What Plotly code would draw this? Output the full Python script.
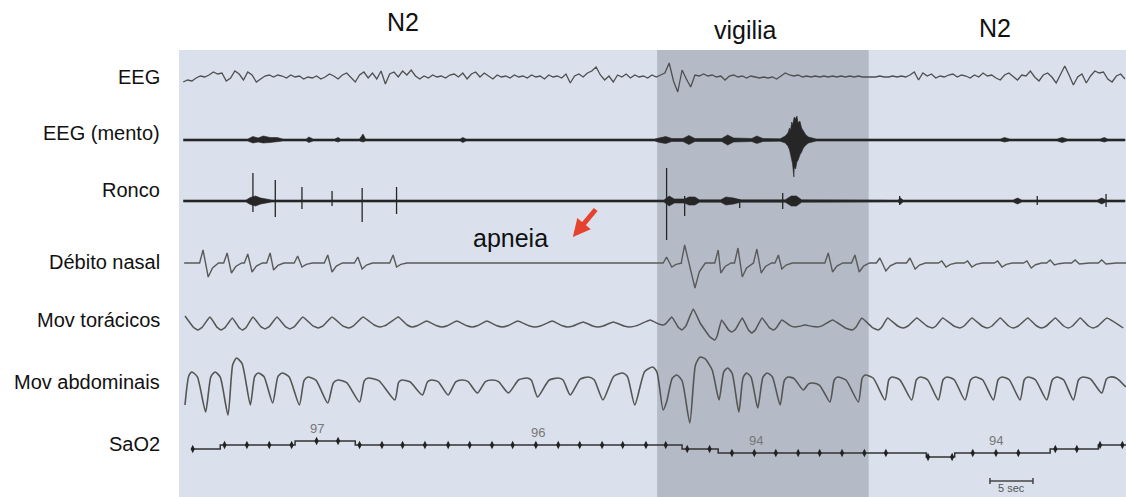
import plotly.graph_objects as go

# ---------------- DATA (times in seconds, deflections in display units) ----------------
STAGE_LABELS = ["N2", "vigilia", "N2"]
STAGE_CENTERS = [26.0, 65.9, 94.9]
WAKE_SPAN = [55.6, 80.2]

CHANNELS = ["EEG", "EEG (mento)", "Ronco", "Débito nasal", "Mov torácicos", "Mov abdominais", "SaO2"]

# EEG sampled every 0.5 s from t=0.5
EEG = [
    -5, -3, -4, -1, 1, 0, 2, 5, 3, 4, -4, -1, 6, 3, -3, 5, 2, -5, -2, 1,
    2, 0, 2, 1, -1, 2, 0, 1, -2, 0, -1, 1, -2, 0, 3, 1, -2, 2, 4, -1,
    -5, 2, 5, -1, 4, -2, 6, -7, 3, 5, 0, 6, 2, 7, 1, -2, 1, -1, 2, 0,
    1, -1, 2, 3, 0, 4, -2, 3, 5, 0, 4, 1, -2, 2, 0, 1, -1, 2, 0, 1,
    -1, 2, 0, 1, -2, 2, 0, 1, -1, 3, -6, 1, 3, 0, 4, 6, 10, 2, -3, 1,
    -5, 2, 0, 3, -1, 2, 0, 1, -1, 2, 0, 2, 4, 14, -4, -15, 7, -2, -10, 2,
    1, 3, 1, 2, 0, 1, -3, 1, 2, 0, 1, -1, 1, 0, -1, 0, -1, 0, -2, 1,
    4, 2, 1, 2, 0, 1, 0, 1, 0, 1, 0, 1, 0, 1, 0, 1, 0, 1, 0, 0,
    0, 0, 1, 0, 0, 1, 0, 1, 0, 2, 5, -3, 4, 1, 3, -1, 1, 0, 2, 3,
    0, 2, 1, -1, 2, 0, 4, 1, 2, -1, -3, 2, 4, 0, -3, 2, 1, 6, 0, -4,
    2, 4, 0, -6, 3, 11, 2, -8, 0, 3, -6, 1, 6, 4, 5, -2, -5, 1, 3, -2,
]
EEG_T0, EEG_DT = 0.5, 0.5

# chin EMG envelope: time, upper amplitude, lower amplitude
MENTO_T = [0.5, 8.0, 8.6, 9.2, 9.8, 10.6, 11.4, 12.1, 14.8, 15.1, 15.6, 18.1, 18.5, 18.8,
           21.0, 21.4, 21.7, 32.7, 33.0, 33.4, 55.3, 55.9, 56.6, 57.3, 58.6, 59.3, 60.0,
           63.1, 63.8, 64.5, 66.6, 67.2, 67.9, 69.9, 70.5, 70.8, 71.0, 71.1, 71.25, 71.35,
           71.45, 71.5, 71.55, 71.7, 71.85, 72.0, 72.2, 72.4, 72.6, 72.9, 73.2, 73.6, 74.1,
           95.5, 96.0, 96.6, 102.1, 102.7, 103.3, 107.1, 107.6, 108.0, 110.0]
MENTO_UP = [1.0, 1.0, 3.5, 2.0, 4, 2.5, 2.5, 1.0, 1.0, 3, 1.0, 1.0, 2.5, 1.0,
            1.0, 6, 1.0, 1.0, 2.5, 1.0, 1.0, 2.5, 3.5, 1.5, 1.5, 4.5, 1.5,
            1.5, 5, 2.0, 1.5, 4, 1.5, 1.2, 4, 7, 12, 9, 18, 15,
            22, 20, 23, 21, 24, 17, 19, 12, 9, 5, 3, 2, 1.0,
            1.0, 2.5, 1.0, 1.0, 2.5, 1.0, 1.0, 2.5, 1.0, 1.0]
MENTO_DN = [1.0, 1.0, 3, 2.0, 3, 2.5, 2, 1.0, 1.0, 2.5, 1.0, 1.0, 2, 1.0,
            1.0, 2, 1.0, 1.0, 2.5, 1.0, 1.0, 2.5, 3.5, 1.5, 1.5, 4.5, 1.5,
            1.5, 5, 2.0, 1.5, 3.5, 1.5, 1.2, 3, 6, 10, 14, 20, 24,
            30, 37, 27, 29, 22, 20, 15, 12, 8, 5, 3, 2, 1.0,
            1.0, 2, 1.0, 1.0, 2.5, 1.0, 1.0, 2, 1.0, 1.0]

# snoring envelope and spikes
RONCO_T = [0.5, 7.8, 8.3, 8.9, 9.5, 10.2, 10.8, 56.4, 57.0, 57.6, 58.8, 59.3, 60.0, 60.5,
           63.0, 63.6, 64.5, 65.3, 70.5, 71.2, 71.8, 72.4, 83.6, 83.9, 84.2, 97.0, 97.5,
           98.0, 106.8, 107.3, 107.8, 110.0]
RONCO_AMP = [1.0, 1.0, 3.5, 5, 3, 2, 1.0, 1.0, 5, 2, 2, 4, 4, 1.2,
             1.2, 4, 3, 1.2, 1.2, 5, 5, 1.2, 1.0, 3, 1.0, 1.0, 3,
             1.0, 1.0, 3, 1.0, 1.0]
SPIKE_T = [8.6, 11.2, 14.3, 17.8, 21.3, 25.3, 56.7, 58.8, 65.2, 70.2, 83.8, 99.8, 107.8]
SPIKE_UP = [28, 21, 14, 10, 13, 14, 33, 5, 2, 8, 5, 5, 7]
SPIKE_DN = [11, 16, 8, 5, 21, 13, 39, 15, 7, 8, 4, 4, 6]

# nasal flow breaths: peak time, peak height, trough time, trough depth
NAS_PEAK_T = [2.8, 5.6, 8.0, 10.6, 13.8, 17.3, 20.8, 24.9,
              56.7, 58.8, 62.7, 65.0, 67.2, 69.7, 75.5, 78.6,
              81.5, 85.0, 88.7, 91.7, 95.2, 98.6, 101.3, 104.2, 107.3]
NAS_PEAK_V = [13, 10, 9, 10, 7, 8, 6, 8,
              6, 18, 13, 15, 14, 8, 10, 8,
              5, 5, 2, 2, 2, 2, 3, 3, 3]
NAS_TR_T = [3.4, 6.1, 8.5, 11.0, 14.3, 17.8, 21.3, 25.3,
            57.3, 60.0, 63.0, 65.5, 67.7, 70.1, 76.0, 79.1,
            82.2, 85.6, 89.2, 92.2, 95.7, 99.1, 101.8, 104.7, 107.8]
NAS_TR_V = [14, 10, 9, 7, 4, 9, 6, 4,
            4, 25, 10, 14, 10, 6, 9, 9,
            8, 6, 4, 4, 4, 5, 2, 1, 1]

# thoracic effort keypoints
TOR_T = [0.7, 2.2, 3.6, 4.9, 6.2, 7.4, 8.6, 10.0, 11.4, 12.9, 14.4, 16.2, 17.8, 19.7,
         21.4, 23.4, 25.5, 27.1, 28.8, 30.6, 32.3, 34.1, 35.8, 37.6, 39.4, 41.4, 43.4,
         45.2, 47.0, 48.7, 50.5, 52.4, 54.8, 56.3, 57.3, 58.5, 59.8, 60.6, 62.3, 63.1,
         64.3, 65.5, 66.6, 67.8, 69.1, 70.1, 71.6, 72.8, 74.2, 76.0, 78.3, 79.4, 81.3,
         82.4, 84.2, 85.8, 87.6, 88.8, 90.8, 92.2, 94.0, 95.5, 97.0, 98.7, 100.3, 101.9,
         103.4, 104.8, 106.3, 107.9, 109.8]
TOR_V = [7, -7, 6, -7, 5, -7, 6, -6, 6, -6, 6, -5, 6, -5,
         6, -4, 6, -4, 2, -4, 2, -4, 2, -4, 2, -4, 2,
         -4, 1, -4, 1, -4, 3, -2, 6, -7, 14, 0, -17, 3,
         -9, 5, -10, 5, -7, 3, -4, -2, -4, 3, -7, 5, -7,
         5, -5, 5, -5, 5, -5, 5, -5, 5, -5, 5, -5, 5,
         -5, 5, -5, 5, -5]

# abdominal effort keypoints
ABD_T = [0.7, 1.5, 3.1, 4.2, 5.7, 6.7, 8.3, 9.2, 10.9, 12.0, 14.0, 15.0, 17.3, 18.5,
         21.0, 22.0, 25.1, 25.9, 28.3, 29.4, 31.3, 32.9, 34.7, 36.4, 38.3, 40.5, 41.7,
         44.1, 45.5, 47.6, 49.3, 51.6, 53.0, 55.1, 56.3, 56.7, 57.9, 59.4, 60.6, 62.0,
         62.8, 63.8, 65.1, 66.0, 67.3, 68.4, 69.9, 70.8, 72.6, 73.7, 75.7, 76.6, 79.0,
         79.8, 82.1, 82.9, 85.2, 86.2, 88.3, 89.3, 91.4, 92.6, 94.7, 95.7, 97.8, 98.7,
         100.9, 102.1, 104.0, 105.1, 107.3, 108.3, 110.1]
ABD_V = [-20, 13, -27, 13, -30, 27, -20, 12, -18, 12, -20, 8, -18, 5,
         -17, 7, -15, 5, -10, 5, -10, 5, -8, 5, -8, 7, -12,
         7, -10, 8, -15, 12, -20, 18, -25, -17, 10, -38, 28, 15,
         -15, 17, -27, 12, -23, 12, -20, 8, -5, 2, -17, 8, -17,
         10, -15, 8, -15, 8, -15, 8, -15, 8, -15, 8, -15, 8,
         -15, 8, -15, 8, -8, 8, -2]

# oxygen saturation (%): step changes and sample marks
SAO2_STEP_T = [1.6, 4.8, 13.5, 20.5, 58.5, 62.7, 86.9, 90.2, 101.3, 106.9]
SAO2_STEP_V = [95, 96, 97, 96, 95, 94, 93, 94, 95, 96]
SAO2_DOT_T = [1.6, 5.3, 7.9, 10.5, 13.1, 16.0, 18.5, 21.0, 23.6, 26.0, 28.6, 31.3, 33.8,
              36.4, 38.8, 41.5, 44.1, 46.6, 49.2, 51.6, 54.3, 56.6, 59.1, 61.7, 64.3,
              66.9, 69.4, 72.0, 74.5, 77.1, 79.7, 82.2, 87.1, 89.9, 92.3, 95.0, 97.6,
              101.9, 104.4, 107.1, 109.7]
SAO2_LABEL_T = [16.0, 41.7, 67.1, 95.0]
SAO2_LABEL_TXT = ["97", "96", "94", "94"]

SCALE_BAR = (94.3, 5.0)  # start, length in seconds

# ---------------- LAYOUT / STYLE ----------------
X_MIN, X_MAX, X_END = -20.81, 110.12, 110.12
BASE = {"EEG": 77, "EEG (mento)": 140, "Ronco": 201, "Débito nasal": 263,
        "Mov torácicos": 323, "Mov abdominais": 385, "SaO2": 453}
LABEL_Y = {"EEG": 77, "EEG (mento)": 133, "Ronco": 190, "Débito nasal": 262,
           "Mov torácicos": 320, "Mov abdominais": 382, "SaO2": 444}
SAO2_REF, SAO2_SCALE = 94, 4.0
LIGHT, DARK = "#dae1ec", "#b4bbc7"
FONT = "Liberation Sans, Arial, sans-serif"


def round_extrema(ts, vs, kind, frac_l, frac_r, drop):
    """Insert shoulder points beside local maxima ('max') or minima ('min')."""
    ox, oy = [ts[0]], [vs[0]]
    for i in range(1, len(ts) - 1):
        t, v = ts[i], vs[i]
        is_ext = (v > vs[i - 1] and v > vs[i + 1]) if kind == "max" else (v < vs[i - 1] and v < vs[i + 1])
        if is_ext:
            ox += [t - frac_l * (t - ts[i - 1]), t, t + frac_r * (ts[i + 1] - t)]
            oy += [v - drop * (v - vs[i - 1]), v, v - drop * (v - vs[i + 1])]
        else:
            ox.append(t)
            oy.append(v)
    ox.append(ts[-1])
    oy.append(vs[-1])
    return ox, oy


fig = go.Figure()

fig.add_shape(type="rect", x0=0, x1=X_END, y0=50, y1=497, fillcolor=LIGHT,
              line_width=0, layer="below")
fig.add_shape(type="rect", x0=WAKE_SPAN[0], x1=WAKE_SPAN[1], y0=50, y1=497,
              fillcolor=DARK, line_width=0, layer="below")

# EEG
b = BASE["EEG"]
fig.add_trace(go.Scatter(x=[EEG_T0 + EEG_DT * i for i in range(len(EEG))],
                         y=[b - v for v in EEG], mode="lines",
                         line=dict(color="#4f4f4f", width=1.3)))


def envelope(ts, up, dn, base):
    xs = list(ts) + list(reversed(ts))
    ys = [base - u for u in up] + [base + d for d in reversed(dn)]
    return xs, ys


# chin EMG
xs, ys = envelope(MENTO_T, MENTO_UP, MENTO_DN, BASE["EEG (mento)"])
fig.add_trace(go.Scatter(x=xs, y=ys, mode="lines", fill="toself", fillcolor="#262626",
                         line=dict(color="#262626", width=0.6)))

# snoring
b = BASE["Ronco"]
xs, ys = envelope(RONCO_T, RONCO_AMP, RONCO_AMP, b)
fig.add_trace(go.Scatter(x=xs, y=ys, mode="lines", fill="toself", fillcolor="#262626",
                         line=dict(color="#262626", width=0.6)))
sx, sy = [], []
for t, u, d in zip(SPIKE_T, SPIKE_UP, SPIKE_DN):
    sx += [t, t, None]
    sy += [b - u, b + d, None]
fig.add_trace(go.Scatter(x=sx, y=sy, mode="lines", line=dict(color="#262626", width=1.3)))

# nasal flow
b = BASE["Débito nasal"]
nx, ny = [0.6], [0]
for pt, pv, tt, tv in zip(NAS_PEAK_T, NAS_PEAK_V, NAS_TR_T, NAS_TR_V):
    nx += [pt - 0.4, pt, tt, tt + 0.5, tt + 1.2]
    ny += [0, pv, -tv, -0.35 * tv, 0]
nx.append(X_END)
ny.append(0)
fig.add_trace(go.Scatter(x=nx, y=[b - v for v in ny], mode="lines",
                         line=dict(color="#5a5a5a", width=1.4)))

# thoracic: sharp peaks, rounded troughs
b = BASE["Mov torácicos"]
tx, tv_ = round_extrema(TOR_T, TOR_V, "min", 0.35, 0.35, 0.2)
fig.add_trace(go.Scatter(x=tx, y=[b - v for v in tv_], mode="lines",
                         line=dict(color="#555555", width=1.5, shape="spline", smoothing=0.3)))

# abdominal: rounded tops, sharp troughs
b = BASE["Mov abdominais"]
ax_, av_ = round_extrema(ABD_T, ABD_V, "max", 0.45, 0.4, 0.12)
fig.add_trace(go.Scatter(x=ax_, y=[b - v for v in av_], mode="lines",
                         line=dict(color="#555555", width=1.6, shape="spline", smoothing=0.6)))

# SaO2
b = BASE["SaO2"]


def sao2_y(v):
    return b - (v - SAO2_REF) * SAO2_SCALE


def sao2_at(t):
    val = SAO2_STEP_V[0]
    for st, sv in zip(SAO2_STEP_T, SAO2_STEP_V):
        if t >= st:
            val = sv
    return val


fig.add_trace(go.Scatter(x=SAO2_STEP_T + [X_END], y=[sao2_y(v) for v in SAO2_STEP_V + [SAO2_STEP_V[-1]]],
                         mode="lines", line=dict(color="#333333", width=1.5, shape="hv")))
fig.add_trace(go.Scatter(x=SAO2_DOT_T, y=[sao2_y(sao2_at(t)) for t in SAO2_DOT_T], mode="markers",
                         marker=dict(symbol="diamond-tall", size=6, color="#222222")))
for t, txt in zip(SAO2_LABEL_T, SAO2_LABEL_TXT):
    fig.add_annotation(x=t, y=sao2_y(sao2_at(t)) - 13, text=txt, showarrow=False,
                       font=dict(family=FONT, size=13, color="#777777"))

# scale bar
s0, sl = SCALE_BAR
fig.add_trace(go.Scatter(x=[s0, s0, None, s0, s0 + sl, None, s0 + sl, s0 + sl],
                         y=[478, 484, None, 481, 481, None, 478, 484], mode="lines",
                         line=dict(color="#444444", width=1.5)))
fig.add_annotation(x=s0 + sl / 2, y=495, yanchor="bottom", text="5 sec", showarrow=False,
                   borderpad=0, font=dict(family=FONT, size=11, color="#555555"))

# stage titles
for lab, cx, yy in zip(STAGE_LABELS, STAGE_CENTERS, [22, 30, 28]):
    fig.add_annotation(x=cx, y=yy, text=lab, showarrow=False,
                       font=dict(family=FONT, size=25, color="#111111"))

# channel labels
for ch in CHANNELS:
    fig.add_annotation(x=-2.0, y=LABEL_Y[ch], text=ch, showarrow=False, xanchor="right",
                       font=dict(family=FONT, size=20, color="#111111"))

# apnea annotation
fig.add_annotation(x=38.6, y=238, text="apneia", showarrow=False,
                   font=dict(family=FONT, size=25, color="#111111"))
fig.add_annotation(x=45.8, y=237, ax=48.6, ay=208, axref="x", ayref="y", xref="x", yref="y",
                   text="", showarrow=True, arrowhead=2, arrowsize=0.7, arrowwidth=5,
                   arrowcolor="#e6432e")

fig.update_layout(width=1126, height=497, margin=dict(l=0, r=0, t=0, b=0),
                  paper_bgcolor="white", plot_bgcolor="white", showlegend=False,
                  hovermode=False)
fig.update_xaxes(range=[X_MIN, X_MAX], visible=False, showgrid=False, zeroline=False)
fig.update_yaxes(range=[497, 0], visible=False, showgrid=False, zeroline=False)

fig.write_html("out.html", config={"displayModeBar": False},
               post_script="document.body.style.margin='0';document.body.style.padding='0';")
